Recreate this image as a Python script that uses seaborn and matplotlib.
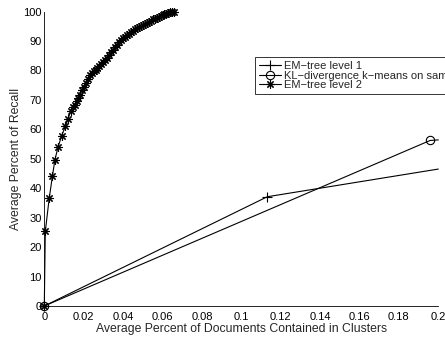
import matplotlib
matplotlib.use("Agg")
import matplotlib.pyplot as plt
import seaborn as sns
import pandas as pd

# EM-tree level 1
l1_x = [0.0, 0.1132, 0.2]
l1_y = [0.0, 37.1, 46.5]

# KL-divergence k-means on sample
kl_x = [0.0, 0.1958, 0.2]
kl_y = [0.0, 56.2, 56.4]

# EM-tree level 2
l2_x = [0.0, 0.0005, 0.0025, 0.0041, 0.0054, 0.0070, 0.0088, 0.0107, 0.0120,
        0.0134, 0.0146, 0.0156, 0.0165, 0.0173,
        0.018, 0.019, 0.020, 0.021, 0.022, 0.023, 0.024, 0.025, 0.026, 0.027,
        0.028, 0.029, 0.030, 0.031, 0.032, 0.033, 0.034, 0.035, 0.036, 0.037,
        0.038, 0.039, 0.040, 0.041, 0.042, 0.043, 0.044, 0.045, 0.046, 0.047,
        0.048, 0.049, 0.050, 0.051, 0.052, 0.053, 0.054, 0.055, 0.056, 0.057,
        0.058, 0.059, 0.060, 0.061, 0.062, 0.063, 0.064, 0.065, 0.066]
l2_y = [0.0, 25.3, 36.6, 44.0, 49.7, 54.0, 57.8, 61.0, 63.5,
        66.1, 67.5, 68.4, 69.5, 70.6,
        71.8, 73.2, 74.5, 75.8, 77.2, 78.4, 79.2, 79.8, 80.3, 80.8,
        81.4, 82.1, 82.8, 83.5, 84.3, 85.2, 86.1, 87.0, 87.9, 88.7,
        89.5, 90.2, 90.9, 91.5, 92.0, 92.5, 93.0, 93.5, 94.0, 94.4,
        94.8, 95.2, 95.5, 95.9, 96.2, 96.6, 96.9, 97.3, 97.6, 97.9,
        98.2, 98.5, 98.8, 99.0, 99.3, 99.5, 99.7, 99.8, 100.0]

labels = ["EM\u2212tree level 1", "KL\u2212divergence k\u2212means on sample", "EM\u2212tree level 2"]
xticks = [0, 0.02, 0.04, 0.06, 0.08, 0.1, 0.12, 0.14, 0.16, 0.18, 0.2]
xtick_labels = ["0", "0.02", "0.04", "0.06", "0.08", "0.1", "0.12", "0.14", "0.16", "0.18", "0.2"]
yticks = [0, 10, 20, 30, 40, 50, 60, 70, 80, 90, 100]

sns.set_style("white")
plt.rcParams['font.family'] = ['Liberation Sans', 'DejaVu Sans']
fs = 8
lfs = 8.8

fig = plt.figure(figsize=(4.45, 3.39), dpi=100)
ax = fig.add_axes([44.3 / 445, 33 / 339, (438.3 - 44.3) / 445, (306 - 11.5) / 339])

d1 = pd.DataFrame({"x": l1_x, "y": l1_y})
d2 = pd.DataFrame({"x": kl_x, "y": kl_y})
d3 = pd.DataFrame({"x": l2_x, "y": l2_y})

sns.lineplot(data=d1, x="x", y="y", ax=ax, sort=False, estimator=None, color="black",
             lw=0.8, marker="+", markersize=7, markeredgewidth=0.8, markeredgecolor="black",
             markevery=[0, 1], label=labels[0], clip_on=False)
sns.lineplot(data=d2, x="x", y="y", ax=ax, sort=False, estimator=None, color="black",
             lw=0.8, marker="o", markersize=6, markerfacecolor="none", markeredgecolor="black",
             markeredgewidth=0.8, markevery=[0, 1], label=labels[1], clip_on=False)
sns.lineplot(data=d3, x="x", y="y", ax=ax, sort=False, estimator=None, color="black",
             lw=0.8, marker=(8, 2, 0), markersize=6, markeredgewidth=0.8,
             markeredgecolor="black", label=labels[2], clip_on=False)

ax.set_xlim(0, 0.2)
ax.set_ylim(0, 100)
ax.set_xticks(xticks)
ax.set_xticklabels(xtick_labels)
ax.set_yticks(yticks)
ax.tick_params(direction="in", length=3, width=0.6, labelsize=fs, colors="black")
ax.tick_params(axis="x", pad=4)
ax.tick_params(axis="y", pad=2)
for s in ["top", "right"]:
    ax.spines[s].set_visible(False)
for s in ["left", "bottom"]:
    ax.spines[s].set_color("black")
    ax.spines[s].set_linewidth(0.6)

ax.set_xlabel("Average Percent of Documents Contained in Clusters", fontsize=lfs, labelpad=1)
ax.set_ylabel("Average Percent of Recall", fontsize=lfs, labelpad=0.8)

leg = ax.legend(loc="upper left", bbox_to_anchor=(255 / 445, 1 - 57.3 / 339),
                bbox_transform=fig.transFigure, fontsize=fs, frameon=True,
                fancybox=False, handlelength=2.0, handletextpad=0.25, labelspacing=-0.05,
                borderpad=0.35, borderaxespad=0)
leg.get_frame().set_edgecolor("black")
leg.get_frame().set_linewidth(0.7)

fig.savefig("out.png", dpi=100)
